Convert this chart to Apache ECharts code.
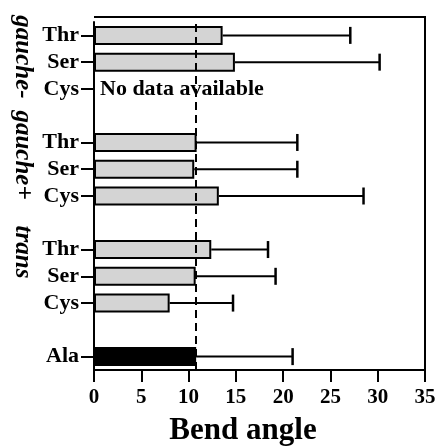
<!DOCTYPE html>
<html>
<head>
<meta charset="utf-8">
<script src="https://cdn.jsdelivr.net/npm/echarts@6/dist/echarts.min.js"></script>
<style>
html,body{margin:0;padding:0;background:#fff;}
#chart{width:438px;height:446px;}
</style>
</head>
<body>
<div id="chart"></div>
<script>
// categories listed bottom -> top ('' = spacer rows)
var categories = ['Ala', '', 'Cys', 'Ser', 'Thr', '', 'Cys', 'Ser', 'Thr', '', 'Cys', 'Ser', 'Thr'];
// mean bend angle per row (null = spacer / no data)
var means = [10.8, null, 8.0, 10.75, 12.4, null, 13.2, 10.6, 10.85, null, null, 14.9, 13.6];
// upper end of error bar per row
var uppers = [21.0, null, 14.7, 19.2, 18.4, null, 28.5, 21.5, 21.5, null, null, 30.2, 27.1];
// rows that are the Ala reference (black bar)
var isReference = [true, false, false, false, false, false, false, false, false, false, false, false, false];
// rows with no data available
var noData = [false, false, false, false, false, false, false, false, false, false, true, false, false];
var referenceLine = 10.8;
var xTicks = [0, 5, 10, 15, 20, 25, 30, 35];
var groupLabels = ['gauche-', 'gauche+', 'trans'];
var noDataText = 'No data available';
var xTitle = 'Bend angle';

var serif = '"Liberation Serif", "Times New Roman", serif';

var barData = means.map(function (v, i) {
  if (noData[i]) {
    return {
      value: 0,
      itemStyle: { borderWidth: 0, color: 'transparent' },
      label: { show: true, position: 'right', distance: 6, formatter: noDataText,
        fontFamily: serif, fontWeight: 'bold', fontSize: 22, color: '#000' }
    };
  }
  if (v === null) return '-';
  return {
    value: v,
    itemStyle: isReference[i] ? { color: '#000' } : { color: '#d4d4d4' }
  };
});

var errData = [];
means.forEach(function (v, i) {
  if (v !== null && uppers[i] !== null) errData.push([v, i, uppers[i]]);
});

var chart = echarts.init(document.getElementById('chart'), null, { renderer: 'canvas' });
chart.setOption({
  animation: false,
  backgroundColor: '#fff',
  grid: { left: 94, right: 13, top: 22, bottom: 76, containLabel: false, outerBoundsMode: 'none' },
  xAxis: {
    type: 'value', min: 0, max: 35, interval: 5,
    name: xTitle, nameLocation: 'middle', nameGap: 45,
    nameTextStyle: { fontFamily: serif, fontWeight: 'bold', fontSize: 31, color: '#000', padding: [0, 33, 0, 0] },
    axisLine: { show: true, lineStyle: { color: '#000', width: 2 } },
    axisTick: { show: true, length: 12, lineStyle: { color: '#000', width: 2 } },
    axisLabel: { fontFamily: serif, fontWeight: 'bold', fontSize: 21, color: '#000', margin: 17,
      formatter: function (v) { return xTicks.indexOf(v) >= 0 ? String(v) : ''; } },
    splitLine: { show: false }
  },
  yAxis: {
    type: 'category', data: categories,
    axisLine: { show: true, lineStyle: { color: '#000', width: 2 } },
    axisTick: { show: true, length: 13, alignWithLabel: true,
      interval: function (idx, val) { return categories[idx] !== ''; },
      lineStyle: { color: '#000', width: 2 } },
    axisLabel: { fontFamily: serif, fontWeight: 'bold', fontSize: 22, color: '#000', margin: 15, interval: 0 },
    splitLine: { show: false }
  },
  series: [
    {
      type: 'bar', data: barData, barWidth: 19,
      itemStyle: { borderColor: '#000', borderWidth: 2 },
      markLine: {
        silent: true, symbol: 'none', label: { show: false },
        lineStyle: { color: '#000', type: [8, 5], width: 2 },
        data: [{ xAxis: referenceLine }]
      },
      z: 2
    },
    {
      type: 'custom',
      data: errData,
      encode: { x: [0, 2], y: 1 },
      renderItem: function (params, api) {
        var start = api.coord([api.value(0), api.value(1)]);
        var end = api.coord([api.value(2), api.value(1)]);
        var h = 8.5;
        return {
          type: 'group',
          children: [
            { type: 'line', shape: { x1: start[0], y1: start[1], x2: end[0], y2: end[1] },
              style: { stroke: '#000', lineWidth: 2 } },
            { type: 'line', shape: { x1: end[0], y1: end[1] - h, x2: end[0], y2: end[1] + h },
              style: { stroke: '#000', lineWidth: 2.5 } }
          ]
        };
      },
      z: 3
    }
  ],
  graphic: [
    { type: 'polyline', shape: { points: [[94, 17], [425, 17], [425, 370]] },
      style: { stroke: '#000', lineWidth: 2, fill: null } },
    { type: 'text', x: 22, y: 57, rotation: -Math.PI / 2,
      style: { text: groupLabels[0], font: 'italic bold 25px ' + serif, fill: '#000', align: 'center', verticalAlign: 'middle' } },
    { type: 'text', x: 22, y: 155, rotation: -Math.PI / 2,
      style: { text: groupLabels[1], font: 'italic bold 25px ' + serif, fill: '#000', align: 'center', verticalAlign: 'middle' } },
    { type: 'text', x: 22, y: 252, rotation: -Math.PI / 2,
      style: { text: groupLabels[2], font: 'italic bold 25px ' + serif, fill: '#000', align: 'center', verticalAlign: 'middle' } }
  ]
});
</script>
</body>
</html>
